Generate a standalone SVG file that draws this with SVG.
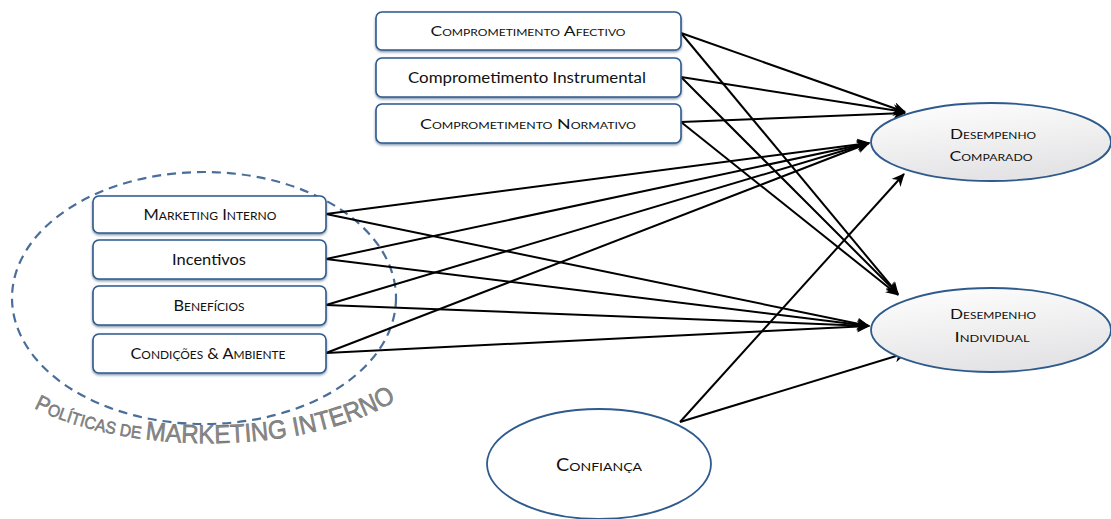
<svg xmlns="http://www.w3.org/2000/svg" width="1111" height="519" viewBox="0 0 1111 519">
  <style>
    .box { fill: #ffffff; stroke: #2E5A8C; stroke-width: 1.6; }
    .oval { stroke: #2E5A8C; stroke-width: 1.8; }
    .lbl { font-family: Lato, "Liberation Sans", sans-serif; fill: #111111; text-anchor: middle; }
    .sc { font-variant: small-caps; }
    .link { stroke: #000000; stroke-width: 2; fill: none; marker-end: url(#arrow); }
    .group { fill: none; stroke: #4A6E9A; stroke-width: 2.2; stroke-dasharray: 9 6; }
    .wordart { font-family: "Liberation Sans", Arial, sans-serif; fill: #8a8a8a; stroke: #666666; stroke-width: 0.5; }
  </style>
  <defs>
    <marker id="arrow" markerUnits="userSpaceOnUse" markerWidth="14" markerHeight="12" refX="12" refY="6" orient="auto">
      <path d="M0,0 L13,6 L0,12 L4,6 z" fill="#000000"/>
    </marker>
    <linearGradient id="shade" x1="0" y1="0" x2="0.3" y2="1">
      <stop offset="0" stop-color="#ffffff"/>
      <stop offset="1" stop-color="#e4e4e6"/>
    </linearGradient>
    <filter id="drop" x="-5%" y="-10%" width="110%" height="130%">
      <feDropShadow dx="0" dy="1.5" stdDeviation="0.8" flood-color="#1F3F66" flood-opacity="0.55"/>
    </filter>
    <path id="arc" d="M34,408 C118,452 300,462 404,396"/>
  </defs>

  <!-- dashed boundary of the internal-marketing policies group -->
  <ellipse class="group" cx="204" cy="298" rx="192" ry="126"/>
  <text class="wordart">
    <textPath href="#arc" textLength="374" lengthAdjust="spacingAndGlyphs"><tspan font-size="22">P</tspan><tspan font-size="17">OLÍTICAS DE </tspan><tspan font-size="26">MARKETING INTERNO</tspan></textPath>
  </text>

  <!-- connectors -->
  <g id="connectors">
    <line class="link" x1="681" y1="33" x2="905" y2="112"/>
    <line class="link" x1="681" y1="33" x2="898" y2="294"/>
    <line class="link" x1="681" y1="77" x2="905" y2="112"/>
    <line class="link" x1="681" y1="77" x2="898" y2="294"/>
    <line class="link" x1="681" y1="122" x2="905" y2="113"/>
    <line class="link" x1="681" y1="122" x2="898" y2="295"/>

    <line class="link" x1="326" y1="214" x2="869" y2="143"/>
    <line class="link" x1="326" y1="214" x2="869" y2="326"/>
    <line class="link" x1="326" y1="259" x2="869" y2="143"/>
    <line class="link" x1="326" y1="259" x2="869" y2="326"/>
    <line class="link" x1="326" y1="305" x2="869" y2="143"/>
    <line class="link" x1="326" y1="305" x2="869" y2="326"/>
    <line class="link" x1="326" y1="353" x2="869" y2="143"/>
    <line class="link" x1="326" y1="353" x2="869" y2="326"/>

    <line class="link" x1="680" y1="422" x2="904" y2="174"/>
    <line class="link" x1="680" y1="422" x2="906" y2="353"/>
  </g>

  <!-- commitment boxes -->
  <g id="comp-afectivo">
    <rect class="box" filter="url(#drop)" x="376" y="12" width="305" height="38" rx="6"/>
    <text class="lbl sc" x="528" y="36" font-size="13" textLength="195" lengthAdjust="spacingAndGlyphs">Comprometimento Afectivo</text>
  </g>
  <g id="comp-instrumental">
    <rect class="box" filter="url(#drop)" x="376" y="58" width="305" height="39" rx="6"/>
    <text class="lbl" x="527" y="83" font-size="15" textLength="238" lengthAdjust="spacingAndGlyphs">Comprometimento Instrumental</text>
  </g>
  <g id="comp-normativo">
    <rect class="box" filter="url(#drop)" x="376" y="104" width="305" height="39" rx="6"/>
    <text class="lbl sc" x="528" y="129" font-size="13" textLength="216" lengthAdjust="spacingAndGlyphs">Comprometimento Normativo</text>
  </g>

  <!-- internal-marketing policy boxes -->
  <g id="marketing-interno">
    <rect class="box" filter="url(#drop)" x="93" y="196" width="233" height="37" rx="6"/>
    <text class="lbl sc" x="210" y="220" font-size="15" textLength="133" lengthAdjust="spacingAndGlyphs">Marketing Interno</text>
  </g>
  <g id="incentivos">
    <rect class="box" filter="url(#drop)" x="93" y="240" width="233" height="39" rx="6"/>
    <text class="lbl" x="209" y="265" font-size="15" textLength="74" lengthAdjust="spacingAndGlyphs">Incentivos</text>
  </g>
  <g id="beneficios">
    <rect class="box" filter="url(#drop)" x="93" y="286" width="233" height="39" rx="6"/>
    <text class="lbl sc" x="209" y="311" font-size="15" textLength="71" lengthAdjust="spacingAndGlyphs">Benefícios</text>
  </g>
  <g id="condicoes-ambiente">
    <rect class="box" filter="url(#drop)" x="93" y="334" width="233" height="39" rx="6"/>
    <text class="lbl sc" x="208" y="359" font-size="15" textLength="155" lengthAdjust="spacingAndGlyphs">Condições &amp; Ambiente</text>
  </g>

  <!-- outcome ellipses -->
  <g id="desempenho-comparado">
    <ellipse class="oval" fill="url(#shade)" cx="991" cy="142" rx="120" ry="39"/>
    <text class="lbl sc" x="993" y="139" font-size="13" textLength="86" lengthAdjust="spacingAndGlyphs">Desempenho</text>
    <text class="lbl sc" x="991" y="161" font-size="13" textLength="83" lengthAdjust="spacingAndGlyphs">Comparado</text>
  </g>
  <g id="desempenho-individual">
    <ellipse class="oval" fill="url(#shade)" cx="991" cy="330" rx="120" ry="42"/>
    <text class="lbl sc" x="993" y="319" font-size="13" textLength="86" lengthAdjust="spacingAndGlyphs">Desempenho</text>
    <text class="lbl sc" x="992" y="342" font-size="13" textLength="75" lengthAdjust="spacingAndGlyphs">Individual</text>
  </g>

  <!-- trust -->
  <g id="confianca">
    <ellipse class="oval" fill="#ffffff" cx="599" cy="464" rx="112" ry="55"/>
    <text class="lbl sc" x="599" y="471" font-size="17" textLength="86" lengthAdjust="spacingAndGlyphs">Confiança</text>
  </g>
</svg>
